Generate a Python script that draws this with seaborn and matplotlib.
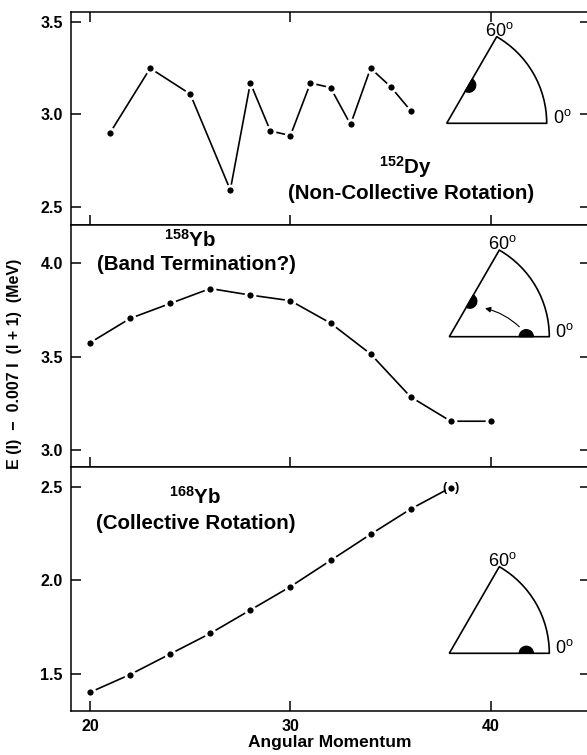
import numpy as np
import matplotlib
matplotlib.use("Agg")
import matplotlib.pyplot as plt
import seaborn as sns
from matplotlib.patches import Wedge, Arc, FancyArrowPatch

# energies (MeV), x = angular momentum
dy152_spin = [21, 23, 25, 27, 28, 29, 30, 31, 32, 33, 34, 35, 36]
dy152_energy = [2.90, 3.25, 3.11, 2.59, 3.17, 2.91, 2.885, 3.17, 3.145, 2.945, 3.25, 3.15, 3.02]

yb158_spin = [20, 22, 24, 26, 28, 30, 32, 34, 36, 38, 40]
yb158_energy = [3.575, 3.705, 3.785, 3.865, 3.83, 3.80, 3.68, 3.515, 3.285, 3.155, 3.155]

yb168_spin = [20, 22, 24, 26, 28, 30, 32, 34, 36, 38]
yb168_energy = [1.40, 1.495, 1.605, 1.715, 1.84, 1.965, 2.105, 2.245, 2.38, 2.495]

x_ticks = [20, 30, 40]
top_yticks = [2.5, 3.0, 3.5]
mid_yticks = [3.0, 3.5, 4.0]
bot_yticks = [1.5, 2.0, 2.5]

sns.set_style("ticks")
plt.rcParams['font.family'] = ['Liberation Sans', 'DejaVu Sans']
plt.rcParams['mathtext.fontset'] = 'custom'
plt.rcParams['mathtext.rm'] = 'Liberation Sans'
plt.rcParams['mathtext.bf'] = 'Liberation Sans:bold'
for k in ['text.color', 'axes.labelcolor', 'axes.edgecolor', 'xtick.color', 'ytick.color']:
    plt.rcParams[k] = 'black'

W, H = 587, 755
fig = plt.figure(figsize=(W / 100, H / 100), dpi=100)


def px_axes(left, top, right, bottom):
    return fig.add_axes([left / W, 1 - bottom / H, (right - left) / W, (bottom - top) / H])


ax1 = px_axes(71, 12, 590, 225)
ax2 = px_axes(71, 225, 590, 467)
ax3 = px_axes(71, 467, 590, 711)

panels = [
    (ax1, dy152_spin, dy152_energy, top_yticks, (2.40, 3.555), True),
    (ax2, yb158_spin, yb158_energy, mid_yticks, (2.91, 4.205), False),
    (ax3, yb168_spin, yb168_energy, bot_yticks, (1.30, 2.605), False),
]

for ax, xs, ys, yt, ylim, top in panels:
    sns.lineplot(x=xs, y=ys, ax=ax, color='black', lw=1.2, marker='o', ms=6.5,
                 mec='white', mew=2, sort=False)
    ax.set_xlim(19.05, 44.95)
    ax.set_ylim(*ylim)
    ax.set_xticks(x_ticks)
    ax.set_yticks(yt)
    ax.set_yticklabels([f"{v:.1f}" for v in yt])
    ax.tick_params(direction='in', length=7.5, width=1.1, top=top, right=True,
                   labelsize=11.5, pad=6)
    for lab in ax.get_yticklabels() + ax.get_xticklabels():
        lab.set_fontweight('bold')
    for sp in ax.spines.values():
        sp.set_linewidth(1.1)
        sp.set_visible(True)
    ax.set_xlabel('')
    ax.set_ylabel('')
    if ax is not ax3:
        ax.tick_params(labelbottom=False)

# (•) on the last 168Yb point
ax3.annotate('(', xy=(yb168_spin[-1], yb168_energy[-1]), xytext=(-4.5, 0),
             textcoords='offset points', ha='center', va='center', fontsize=9, fontweight='bold')
ax3.annotate(')', xy=(yb168_spin[-1], yb168_energy[-1]), xytext=(4.5, 0),
             textcoords='offset points', ha='center', va='center', fontsize=9, fontweight='bold')

# nucleus labels
lab_kw = dict(ha='center', va='center', fontsize=14.8, fontweight='bold')
ax1.text(35.75, 2.715, r'$\mathbf{^{152}}$Dy', **lab_kw)
ax1.text(36.0, 2.573, '(Non-Collective Rotation)', **lab_kw)
ax2.text(25.0, 4.125, r'$\mathbf{^{158}}$Yb', **lab_kw)
ax2.text(25.3, 3.995, '(Band Termination?)', **lab_kw)
ax3.text(25.25, 2.445, r'$\mathbf{^{168}}$Yb', **lab_kw)
ax3.text(25.3, 2.305, '(Collective Rotation)', **lab_kw)


def add_sector(apex_x, apex_y, dots, arrow=False, r=100):
    sax = fig.add_axes([(apex_x - 0.1 * r) / W, 1 - (apex_y + 0.1 * r) / H,
                        1.2 * r / W, 1.1 * r / H])
    sax.set_xlim(-0.1, 1.1)
    sax.set_ylim(-0.1, 1.0)
    sax.axis('off')
    g = np.radians(60)
    sax.plot([np.cos(g), 0, 1], [np.sin(g), 0, 0], color='black', lw=1.2,
             solid_joinstyle='miter', clip_on=False)
    sax.add_patch(Arc((0, 0), 2, 2, theta1=0, theta2=60, color='black', lw=1.2))
    for ang, d in dots:
        a = np.radians(ang)
        t1, t2 = (0, 180) if ang == 0 else (ang - 180, ang)
        sax.add_patch(Wedge((d * np.cos(a), d * np.sin(a)), 0.07, t1, t2, color='black'))
    if arrow:
        sax.add_patch(FancyArrowPatch((0.72, 0.08), (0.33, 0.29), arrowstyle='-|>',
                                      mutation_scale=8, connectionstyle='arc3,rad=0.15',
                                      color='black', lw=0.8))
    sax.text(np.cos(g) + 0.03, np.sin(g) + 0.01, '60$^{\\mathrm{o}}$', ha='center',
             va='baseline', fontsize=13, clip_on=False)
    sax.text(1.06, 0.05, '0$^{\\mathrm{o}}$', ha='left', va='center', fontsize=13, clip_on=False)


add_sector(446.7, 123.3, [(60, 0.44)])
add_sector(449.3, 336.7, [(60, 0.41), (0, 0.77)], arrow=True)
add_sector(449.3, 653.3, [(0, 0.77)])

fig.text(15 / W, 1 - 364 / H, 'E (I)  \u2212  0.007 I  (I + 1)  (MeV)', rotation=90,
         ha='center', va='center', fontsize=11.5, fontweight='bold')
fig.text(330 / W, 1 - 743 / H, 'Angular Momentum', ha='center', va='center',
         fontsize=12.5, fontweight='bold')

fig.savefig('out.png', dpi=100)
